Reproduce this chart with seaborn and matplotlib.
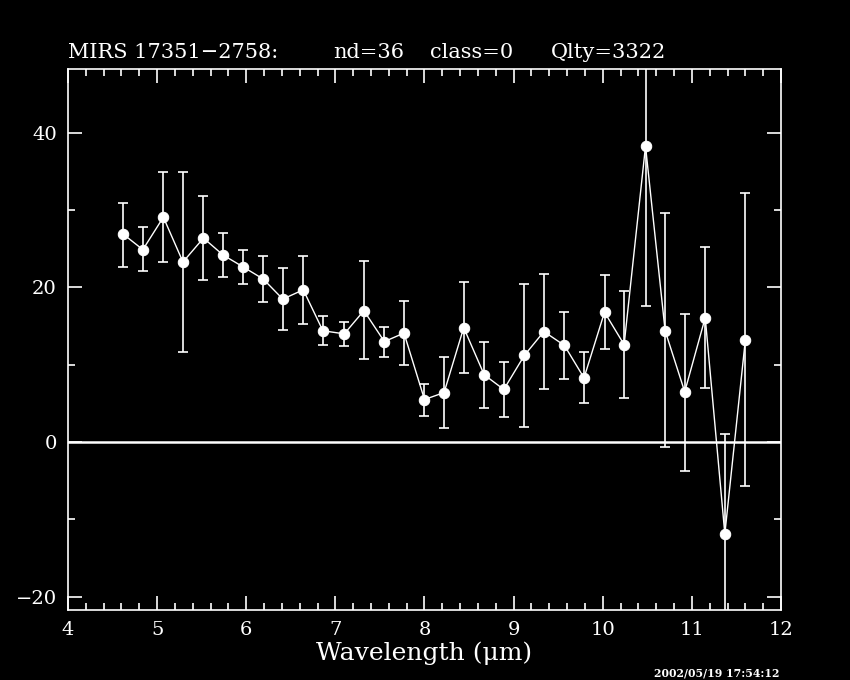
import matplotlib
matplotlib.use("Agg")
import matplotlib.pyplot as plt
import numpy as np
import pandas as pd
import seaborn as sns
from matplotlib.ticker import MultipleLocator

# wavelength (um), flux, lower / upper end of error bar
wavelength = [4.62, 4.84, 5.07, 5.29, 5.52, 5.74, 5.96, 6.19, 6.41, 6.64,
              6.86, 7.10, 7.32, 7.55, 7.77, 8.00, 8.22, 8.44, 8.67, 8.89,
              9.12, 9.34, 9.57, 9.79, 10.02, 10.24, 10.48, 10.70, 10.92, 11.15,
              11.37, 11.60]
flux = [26.9, 24.9, 29.1, 23.3, 26.4, 24.2, 22.7, 21.1, 18.5, 19.7,
        14.4, 14.0, 17.0, 13.0, 14.1, 5.5, 6.4, 14.8, 8.7, 6.8,
        11.2, 14.3, 12.5, 8.3, 16.8, 12.6, 38.3, 14.4, 6.5, 16.1,
        -11.9, 13.2]
err_lo = [22.7, 22.1, 23.3, 11.6, 21.0, 21.3, 20.5, 18.1, 14.5, 15.3,
          12.6, 12.4, 10.7, 11.0, 10.0, 3.4, 1.8, 8.9, 4.4, 3.3,
          2.0, 6.9, 8.2, 5.1, 12.1, 5.7, 17.6, -0.7, -3.7, 7.0,
          -24.8, -5.7]
err_hi = [31.0, 27.8, 34.9, 34.9, 31.8, 27.0, 24.9, 24.1, 22.5, 24.1,
          16.3, 15.5, 23.4, 14.9, 18.2, 7.5, 11.0, 20.7, 13.0, 10.3,
          20.4, 21.8, 16.8, 11.6, 21.6, 19.6, 59.0, 29.6, 16.6, 25.3,
          1.0, 32.2]

title_parts = ["MIRS 17351\u22122758:", "nd=36", "class=0", "Qlty=3322"]
title_x = [68, 333, 430, 551]

df = pd.DataFrame({"wavelength": wavelength, "flux": flux})
yerr = [np.array(flux) - np.array(err_lo), np.array(err_hi) - np.array(flux)]

sns.set_theme(style="ticks", rc={
    "figure.facecolor": "black", "axes.facecolor": "black",
    "axes.edgecolor": "white", "axes.labelcolor": "white",
    "xtick.color": "white", "ytick.color": "white", "text.color": "white",
})
plt.rcParams["font.family"] = ["DejaVu Serif"]

fig = plt.figure(figsize=(8.5, 6.8), dpi=100)
ax = fig.add_axes([0.08, 0.1029, 0.8388, 0.7956])

ax.axhline(0, color="white", lw=1.8, zorder=1)
ax.errorbar(wavelength, flux, yerr=yerr, fmt="none", ecolor="white",
            elinewidth=1.2, capsize=3.5, capthick=1.2, zorder=2)
sns.lineplot(data=df, x="wavelength", y="flux", ax=ax, color="white",
             lw=1.0, marker="o", markersize=7.5, markeredgecolor="white",
             markerfacecolor="white", zorder=3)

ax.set_xlim(4, 12)
ax.set_ylim(-21.75, 48.28)
ax.xaxis.set_major_locator(MultipleLocator(1))
ax.xaxis.set_minor_locator(MultipleLocator(0.2))
ax.yaxis.set_major_locator(MultipleLocator(20))
ax.yaxis.set_minor_locator(MultipleLocator(10))
ax.tick_params(which="both", direction="in", top=True, right=True,
               labelsize=14, width=1.2)
ax.tick_params(which="major", length=10, pad=8)
ax.tick_params(which="minor", length=5)
ax.tick_params(axis="y", pad=8)
for s in ax.spines.values():
    s.set_color("white")
    s.set_linewidth(1.2)

ax.set_xlabel("Wavelength (μm)", fontsize=18, labelpad=2)
ax.set_ylabel("")

for part, px in zip(title_parts, title_x):
    fig.text(px / 850, 1 - 58 / 680, part, fontsize=15,
             ha="left", va="baseline", color="white")
fig.text(0.77, 1.5 / 680, "2002/05/19 17:54:12", fontsize=7.8,
         fontweight="bold", ha="left", va="bottom", color="white")

fig.savefig("out.png", dpi=100, facecolor="black")
